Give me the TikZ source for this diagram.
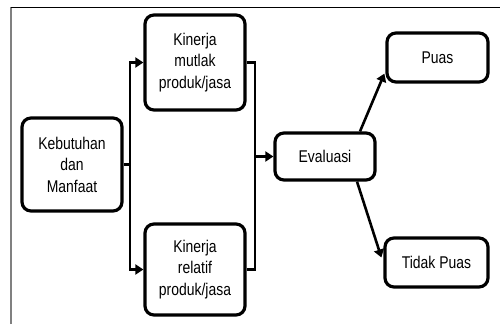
\documentclass[tikz,border=0pt]{standalone}
\usepackage{fontspec}
\setmainfont[FakeStretch=0.82]{Liberation Sans}
\usetikzlibrary{calc,arrows.meta}
\begin{document}
\begin{tikzpicture}[x=1pt,y=1pt,
  box/.style={draw,line width=3.2pt,rounded corners=9pt,align=center,
    font=\fontsize{17}{21.5}\selectfont,inner sep=0pt},
  conn/.style={line width=2.6pt},
  arr/.style={conn,-{Triangle[length=8pt,width=10pt]}}]
\useasboundingbox (0,0) rectangle (500,324);
\fill[white] (0,0) rectangle (500,324);
\draw[gray,line width=1.2pt] (11,0) -- (11,317);
\draw[black,line width=0.9pt] (11,317) -- (500,317);
\node[box,minimum width=100pt,minimum height=93pt] (keb) at (72,159.5) {Kebutuhan\\dan\\Manfaat};
\node[box,minimum width=100pt,minimum height=95pt] (mut) at (195,261.5) {Kinerja\\mutlak\\produk/jasa};
\node[box,minimum width=100pt,minimum height=91pt] (rel) at (195,54.5) {Kinerja\\relatif\\produk/jasa};
\node[box,minimum width=100pt,minimum height=47pt] (eva) at (325,167.5) {Evaluasi};
\node[box,minimum width=101pt,minimum height=49pt] (puas) at (437.5,266.5) {Puas};
\node[box,minimum width=103pt,minimum height=49pt] (tidak) at (436.5,61.5) {Tidak Puas};
\coordinate (bl) at (130,0);
\coordinate (br) at (255,0);
\draw[conn] (keb.east) -- (keb.east -| bl);
\draw[arr] (keb.east -| bl) |- (mut.west);
\draw[arr] (keb.east -| bl) |- (rel.west);
\draw[conn] (mut.east) -| (rel.east -| br) -- (rel.east);
\draw[arr] (eva.west -| br) -- (eva.west);
\draw[arr] ($(eva.north)+(35,0)$) -- ($(puas.south west)+(-1,10)$);
\draw[arr] ($(eva.south)+(32,0)$) -- ($(tidak.west)+(-2,5)$);
\end{tikzpicture}
\end{document}
